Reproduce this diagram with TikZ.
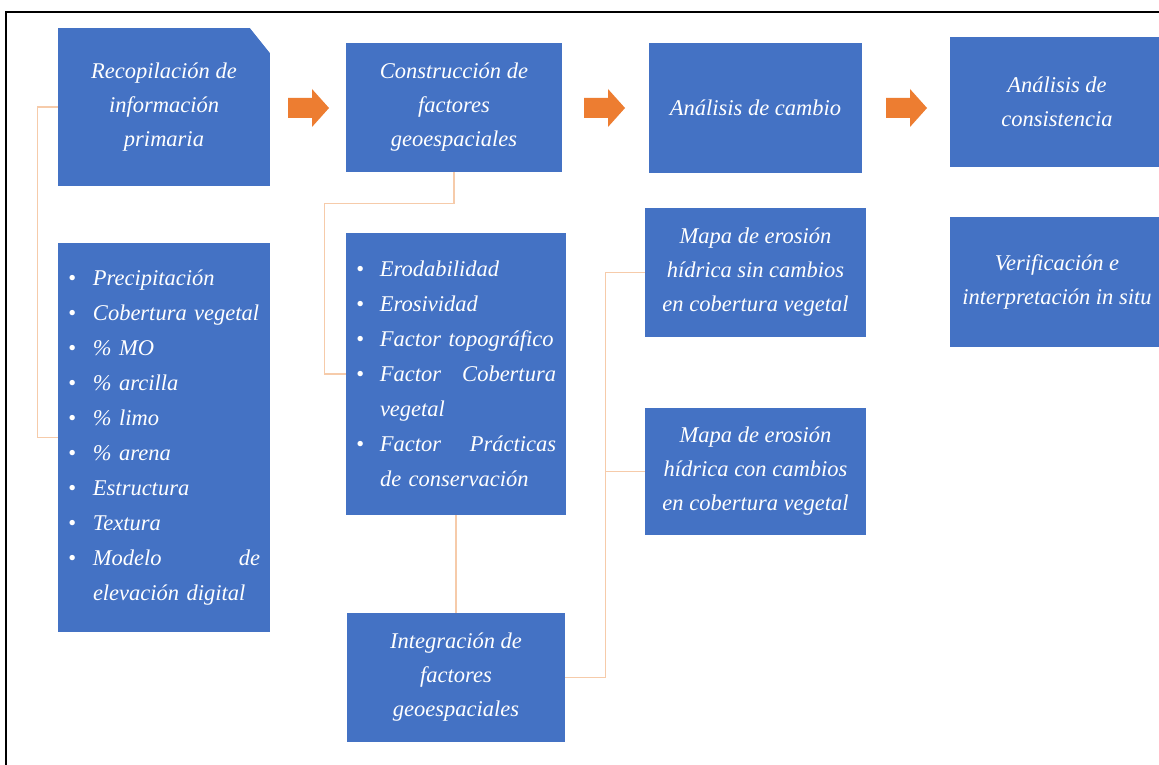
\documentclass[tikz,border=0pt]{standalone}
\usepackage{fontspec}
\setmainfont{Liberation Serif}
\usepackage{tikz}
\definecolor{boxblue}{RGB}{68,114,196}
\definecolor{arrowora}{RGB}{237,125,49}
\definecolor{linkora}{RGB}{246,203,170}
\tikzset{
  stepbox/.style={rectangle, fill=boxblue, text=white, inner sep=2pt, align=center,
    font=\fontsize{22.5}{34}\selectfont\itshape},
  listbox/.style={stepbox, align=left, font=\fontsize{22.5}{35}\selectfont\itshape,
    execute at begin node={\hyphenpenalty=10000 \hbadness=10000 \hfuzz=20pt}},
  snipped/.style={path picture={\fill[white] ([xshift=-20pt]path picture bounding box.north east)
    -- (path picture bounding box.north east) -- ([yshift=-25pt]path picture bounding box.north east) -- cycle;}},
  link/.style={draw=linkora, line width=1.2pt}
}
\newcommand{\bitem}{\makebox[25pt][l]{\textbullet}}
\newcommand{\fitem}{\makebox[24pt][l]{\textbullet}}
\newcommand{\blockarrow}[2]{\fill[arrowora] (#1,#2-10) -- (#1+24,#2-10) -- (#1+24,#2-19) -- (#1+41,#2) -- (#1+24,#2+19) -- (#1+24,#2+10) -- (#1,#2+10) -- cycle;}

\begin{document}
\begin{tikzpicture}[x=1pt,y=-1pt]
  \fill[white] (0,0) rectangle (1159,765);
  \useasboundingbox (0,0) rectangle (1159,765);
  % frame
  \draw[line width=2.4pt] (6,765) -- (6,12) -- (1159,12);

  % row1
  \node[stepbox, snipped, minimum width=212pt, minimum height=158pt] (recop) at (164,107) {Recopilación de\\información\\primaria};
  \node[stepbox, minimum width=216pt, minimum height=129pt] (constr) at (454,107.5) {Construcción de\\factores\\geoespaciales};
  \node[stepbox, minimum width=213pt, minimum height=130pt] (cambio) at (755.5,108) {Análisis de cambio};
  \node[stepbox, minimum width=214pt, minimum height=130pt] (consist) at (1057,102) {Análisis de\\consistencia};
  % arrows for row1
  \blockarrow{288}{108}
  \blockarrow{584}{108}
  \blockarrow{886}{108}

  % lists
  \node[listbox, minimum width=212pt, minimum height=389pt, text width=192pt] (datos) at (164,437.5) {%
    \bitem Precipitación\\
    \bitem Cobertura vegetal\\
    \bitem \% MO\\
    \bitem \% arcilla\\
    \bitem \% limo\\
    \bitem \% arena\\
    \bitem Estructura\\
    \bitem Textura\\
    \bitem Modelo\hfill de\\
    \hspace*{25pt}elevación digital};
  \node[listbox, minimum width=220pt, minimum height=282pt, text width=200pt] (factores) at (456,374) {%
    \fitem Erodabilidad\\
    \fitem Erosividad\\
    \fitem Factor topográfico\\
    \fitem Factor\hfill Cobertura\\
    \hspace*{24pt}vegetal\\
    \fitem Factor\hfill Prácticas\\
    \hspace*{24pt}de conservación};

  % maps and check
  \node[stepbox, minimum width=221pt, minimum height=129pt] (mapasin) at (755.5,272.5) {Mapa de erosión\\hídrica sin cambios\\en cobertura vegetal};
  \node[stepbox, minimum width=221pt, minimum height=127pt] (mapacon) at (755.5,471.5) {Mapa de erosión\\hídrica con cambios\\en cobertura vegetal};
  \node[stepbox, minimum width=214pt, minimum height=130pt] (verif) at (1057,282) {Verificación e\\interpretación in situ};
  \node[stepbox, minimum width=218pt, minimum height=129pt] (integ) at (456,677.5) {Integración de\\factores\\geoespaciales};

  % links
  \draw[link] (recop.west) -- ++(-20,0) |- (datos.west);
  \draw[link] (constr.south) -- ++(0,31) -| ([xshift=-21pt]factores.west) -- (factores.west);
  \draw[link] (factores.south) -- (integ.north);
  \draw[link] (integ.east) -| ([xshift=-39pt]mapasin.west) -- (mapasin.west);
  \draw[link] ([xshift=-39pt]mapacon.west) -- (mapacon.west);
\end{tikzpicture}
\end{document}
